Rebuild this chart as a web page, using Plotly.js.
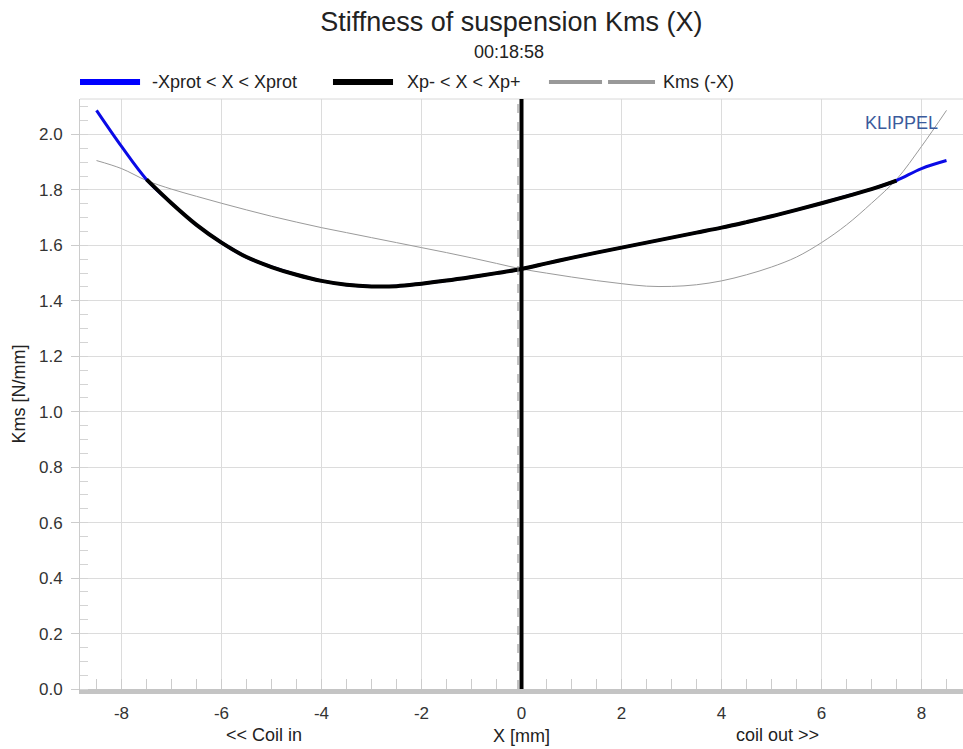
<!DOCTYPE html>
<html>
<head>
<meta charset="utf-8">
<script src="https://cdn.plot.ly/plotly-3.0.1.min.js"></script>
<style>html,body{margin:0;padding:0;background:#fff;}</style>
</head>
<body>
<div id="chart" style="width:963px;height:749px;"></div>
<script>
// ---- data ----
const xMm = [-8.5,-8,-7.5,-7,-6.5,-6,-5.5,-5,-4.5,-4,-3.5,-3,-2.5,-2,-1.5,-1,-0.5,0,0.5,1,1.5,2,2.5,3,3.5,4,4.5,5,5.5,6,6.5,7,7.5,8,8.5];
const kmsValues = [2.087,1.957,1.838,1.752,1.674,1.61,1.558,1.522,1.494,1.472,1.458,1.452,1.453,1.462,1.473,1.486,1.5,1.515,1.535,1.555,1.574,1.592,1.61,1.628,1.646,1.664,1.684,1.705,1.728,1.752,1.777,1.803,1.834,1.877,1.906];
const xpLimits = [-7.5, 7.5];          // Xp- , Xp+
const restPosition = [0];              // X = 0 marker
const offsetMarker = [-0.07];          // dashed marker next to X = 0
const xTickVals = [-8,-6,-4,-2,0,2,4,6,8];
const yTickVals = [0,0.2,0.4,0.6,0.8,1.0,1.2,1.4,1.6,1.8,2.0];
const seriesNames = ['-Xprot < X < Xprot', 'Xp- < X < Xp+', 'Kms (-X)'];
const seriesColors = ['#0a0ae6', '#000000', '#9a9a9a'];

// derived series
const xpX = [], xpY = [];
xMm.forEach((x, i) => { if (x >= xpLimits[0] && x <= xpLimits[1]) { xpX.push(x); xpY.push(kmsValues[i]); } });
const mirrorX = xMm.map(x => -x);

const FONT = 'Liberation Sans, Arial, sans-serif';
const traces = [
  {x: mirrorX, y: kmsValues, name: seriesNames[2], mode: 'lines', line: {color: seriesColors[2], width: 1, shape: 'spline'}},
  {x: xMm, y: kmsValues, name: seriesNames[0], mode: 'lines', line: {color: seriesColors[0], width: 3, shape: 'spline'}},
  {x: xpX, y: xpY, name: seriesNames[1], mode: 'lines', line: {color: seriesColors[1], width: 4, shape: 'spline'}}
];

// legend drawn in the header band (paper coordinates)
const LEG_Y = 1.0288;
const legendShapes = [
  {type: 'line', xref: 'paper', yref: 'paper', x0: 0.0, x1: 0.068, y0: LEG_Y, y1: LEG_Y, line: {color: '#0000ff', width: 6}},
  {type: 'line', xref: 'paper', yref: 'paper', x0: 0.2865, x1: 0.3545, y0: LEG_Y, y1: LEG_Y, line: {color: '#000000', width: 6}},
  {type: 'line', xref: 'paper', yref: 'paper', x0: 0.5311, x1: 0.5912, y0: LEG_Y, y1: LEG_Y, line: {color: '#999999', width: 4}},
  {type: 'line', xref: 'paper', yref: 'paper', x0: 0.5980, x1: 0.6512, y0: LEG_Y, y1: LEG_Y, line: {color: '#999999', width: 4}}
];
const legendTextX = [0.079, 0.368, 0.658];
const legendAnn = seriesNames.map((n, i) => ({
  text: n, xref: 'paper', yref: 'paper', x: legendTextX[i], y: LEG_Y, showarrow: false,
  xanchor: 'left', yanchor: 'middle', font: {family: FONT, size: 18, color: '#222222'}
}));

const layout = {
  width: 963, height: 749,
  margin: {l: 80, r: 0, t: 99, b: 60},
  paper_bgcolor: '#ffffff', plot_bgcolor: '#ffffff',
  font: {family: FONT, color: '#333333', size: 17},
  title: {text: 'Stiffness of suspension Kms (X)', font: {family: FONT, size: 27, color: '#222222'},
          xref: 'container', x: 0.531, xanchor: 'center', yref: 'container', y: 0.971, yanchor: 'middle'},
  showlegend: false,
  xaxis: {
    range: [-8.83, 8.83], tickvals: xTickVals, ticktext: xTickVals.map(String),
    showgrid: true, gridcolor: '#dcdcdc', gridwidth: 1, zeroline: false,
    showline: true, linecolor: '#c4c4c4', linewidth: 5, ticks: '', ticklabelstandoff: 5,
    minor: {dtick: 0.5, tick0: 0, ticks: 'inside', ticklen: 10, tickcolor: '#cccccc', showgrid: false},
    tickfont: {family: FONT, size: 17, color: '#333333'},
    title: {text: 'X [mm]', font: {family: FONT, size: 18, color: '#222222'}, standoff: 8}
  },
  yaxis: {
    range: [0, 2.128], tickvals: yTickVals, ticktext: yTickVals.map(v => v.toFixed(1)),
    showgrid: true, gridcolor: '#dcdcdc', gridwidth: 1, zeroline: false,
    showline: true, linecolor: '#cccccc', linewidth: 1,
    ticks: 'outside', ticklen: 8, tickcolor: '#cccccc', ticklabelstandoff: 5,
    minor: {dtick: 0.05, tick0: 0, ticks: 'inside', ticklen: 8, tickcolor: '#d4d4d4', showgrid: false},
    tickfont: {family: FONT, size: 17, color: '#333333'},
    title: {text: 'Kms [N/mm]', font: {family: FONT, size: 18, color: '#222222'}, standoff: 8}
  },
  shapes: [
    {type: 'line', xref: 'paper', yref: 'paper', x0: 0, x1: 1, y0: 1, y1: 1, line: {color: '#d8d8d8', width: 1}},
    {type: 'line', xref: 'x', yref: 'paper', x0: offsetMarker[0], x1: offsetMarker[0], y0: 0, y1: 1, line: {color: '#888888', width: 1, dash: 'dash'}},
    {type: 'line', xref: 'x', yref: 'paper', x0: restPosition[0], x1: restPosition[0], y0: 0, y1: 1, line: {color: '#000000', width: 4}}
  ].concat(legendShapes),
  annotations: [
    {text: '00:18:58', xref: 'paper', yref: 'paper', x: 0.486, y: 1.08, showarrow: false, xanchor: 'center', yanchor: 'middle', font: {family: FONT, size: 18, color: '#222222'}},
    {text: 'KLIPPEL', xref: 'paper', yref: 'paper', x: 0.93, y: 0.959, showarrow: false, xanchor: 'center', yanchor: 'middle', font: {family: FONT, size: 18, color: '#3b5b9c'}},
    {text: '<< Coil in', xref: 'paper', yref: 'paper', x: 0.208, y: -0.078, showarrow: false, xanchor: 'center', yanchor: 'middle', font: {family: FONT, size: 18, color: '#222222'}},
    {text: 'coil out >>', xref: 'paper', yref: 'paper', x: 0.79, y: -0.078, showarrow: false, xanchor: 'center', yanchor: 'middle', font: {family: FONT, size: 18, color: '#222222'}}
  ].concat(legendAnn)
};

Plotly.newPlot('chart', traces, layout, {staticPlot: true, displayModeBar: false});
</script>
</body>
</html>
